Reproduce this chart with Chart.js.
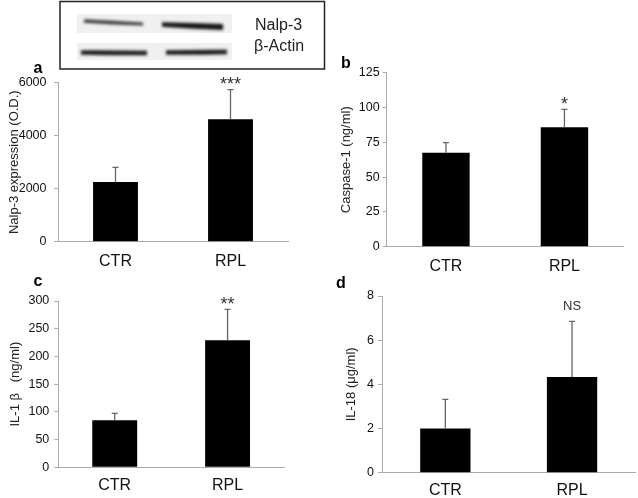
<!DOCTYPE html>
<html><head><meta charset="utf-8">
<script src="https://cdn.jsdelivr.net/npm/chart.js@4"></script>
<style>
body{margin:0;background:#fff;width:638px;height:498px;position:relative;overflow:hidden;font-family:"Liberation Sans",Arial,sans-serif;}
canvas{position:absolute;}
.lbl{position:absolute;font-weight:bold;font-size:16px;line-height:16px;transform:translate(-50%,-50%);color:#000;}
</style></head><body>
<canvas id="blot" width="330" height="72" style="left:0;top:0"></canvas>
<canvas id="ca" width="300" height="215" style="left:0;top:62px"></canvas>
<canvas id="cb" width="318" height="225" style="left:320px;top:50px"></canvas>
<canvas id="cc" width="300" height="223" style="left:0;top:275px"></canvas>
<canvas id="cd" width="318" height="223" style="left:320px;top:275px"></canvas>
<div class="lbl" style="left:38px;top:68px">a</div>
<div class="lbl" style="left:346px;top:63px">b</div>
<div class="lbl" style="left:38px;top:281px">c</div>
<div class="lbl" style="left:341px;top:283px">d</div>
<script>
const categories = ['CTR', 'RPL'];
const nalp3Values = [2250, 4620];
const nalp3Errors = [556, 1116];
const nalp3Sig = ['', '***'];
const caspaseValues = [67.5, 85.8];
const caspaseErrors = [7.2, 12.9];
const caspaseSig = ['', '*'];
const il1bValues = [85, 229];
const il1bErrors = [12.4, 56];
const il1bSig = ['', '**'];
const il18Values = [2.0, 4.33];
const il18Errors = [1.32, 2.52];
const il18Sig = ['', 'NS'];
const blotLabels = ['Nalp-3', 'β-Actin'];

const FAM = '"Liberation Sans", Arial, sans-serif';

// Western blot inset (decorative image)
(function(){
  const b = document.getElementById('blot').getContext('2d');
  b.fillStyle = '#fff'; b.fillRect(0,0,330,72);
  b.fillStyle = '#f0f0f0';
  b.fillRect(77,14,155,19);
  b.fillRect(77,43,155,17);
  function band(x1,x2,y1,y2,h1,h2,col){
    b.fillStyle = col;
    b.beginPath();
    b.moveTo(x1, y1-h1/2);
    b.quadraticCurveTo((x1+x2)/2, (y1+y2)/2-(h1+h2)/4-0.5, x2, y2-h2/2);
    b.lineTo(x2, y2+h2/2);
    b.quadraticCurveTo((x1+x2)/2, (y1+y2)/2+(h1+h2)/4+0.5, x1, y1+h1/2);
    b.closePath(); b.fill();
  }
  b.filter = 'blur(1.4px)';
  band(84,143,21,24,3.5,3,'#3a3a3a');
  band(162,223,24.5,27,4.5,6,'#151515');
  band(81,147,52.5,53,4.5,4.5,'#1a1a1a');
  band(166,227,52.5,52,4.5,4.5,'#1a1a1a');
  b.filter = 'none';
  b.strokeStyle = '#222'; b.lineWidth = 1.5;
  b.strokeRect(60,1.5,264.5,67.5);
  b.fillStyle = '#222'; b.font = '16px ' + FAM; b.textBaseline = 'middle'; b.textAlign = 'left';
  b.fillText(blotLabels[0], 255, 26);
  b.fillText(blotLabels[1], 254, 47);
})();

const errPlugin = {
  id: 'errbars',
  afterDatasetsDraw(chart, args, opts){
    const ctx = chart.ctx;
    const meta = chart.getDatasetMeta(0);
    const ys = chart.scales.y;
    const vals = chart.data.datasets[0].data;
    ctx.save();
    meta.data.forEach((bar, i) => {
      const top = ys.getPixelForValue(vals[i] + opts.errors[i]);
      ctx.strokeStyle = '#666'; ctx.lineWidth = 1.3;
      ctx.beginPath();
      ctx.moveTo(bar.x, bar.y); ctx.lineTo(bar.x, top);
      ctx.moveTo(bar.x - 3, top); ctx.lineTo(bar.x + 3, top);
      ctx.stroke();
      const s = opts.labels[i];
      if (s) {
        ctx.textAlign = 'center'; ctx.textBaseline = 'alphabetic';
        if (s === 'NS') {
          ctx.fillStyle = '#333'; ctx.font = '13px ' + FAM;
          ctx.fillText(s, bar.x, top - 16 + 0.36*13);
        } else {
          ctx.fillStyle = '#333'; ctx.font = '18px ' + FAM;
          ctx.fillText(s, bar.x, top - 10 + 0.57*18);
        }
      }
    });
    ctx.restore();
  }
};

function makeChart(id, values, errors, sig, yTitle, yMax, yStep, L){
  return new Chart(document.getElementById(id), {
    type: 'bar',
    data: { labels: categories, datasets: [{ data: values, backgroundColor: '#000', borderWidth: 0, barPercentage: L.bp, categoryPercentage: 1 }] },
    options: {
      responsive: false, animation: false, events: [],
      layout: { padding: { top: L.pt, right: L.pr, left: 0, bottom: 0 } },
      plugins: { legend: { display: false }, tooltip: { enabled: false }, errbars: { errors: errors, labels: sig } },
      scales: {
        x: {
          grid: { display: false, drawTicks: false },
          border: { color: '#aaa', width: 1 },
          ticks: { color: '#111', font: { size: 16, family: FAM }, padding: L.xp },
          afterFit(s){ s.height = L.xh; }
        },
        y: {
          min: 0, max: yMax,
          grid: { drawOnChartArea: false, drawTicks: true, tickLength: 4, color: '#aaa' },
          border: { color: '#aaa', width: 1 },
          ticks: { stepSize: yStep, color: '#111', font: { size: 12.5, family: FAM }, padding: L.yp,
                   callback: (v) => String(v) },
          title: { display: true, text: yTitle, color: '#222', font: { size: 13, family: FAM }, padding: { top: L.tp, bottom: 0 } },
          afterFit(s){ s.width = L.yw; }
        }
      }
    },
    plugins: [errPlugin]
  });
}

makeChart('ca', nalp3Values, nalp3Errors, nalp3Sig, 'Nalp-3 expression (O.D.)', 6000, 2000,
  { bp: 0.39, pt: 20.7, pr: 12, yw: 58, xh: 35.3, xp: 10, yp: 7.5, tp: 6.2 });
makeChart('cb', caspaseValues, caspaseErrors, caspaseSig, 'Caspase-1 (ng/ml)', 125, 25,
  { bp: 0.4, pt: 22.7, pr: 14.3, yw: 66.7, xh: 28.3, xp: 10, yp: 3, tp: 18.9 });
makeChart('cc', il1bValues, il1bErrors, il1bSig, 'IL-1 β   (ng/ml)', 300, 50,
  { bp: 0.398, pt: 26, pr: 16, yw: 58.3, xh: 30.7, xp: 9, yp: 5, tp: 7.2 });
makeChart('cd', il18Values, il18Errors, il18Sig, 'IL-18 (μg/ml)', 8, 2,
  { bp: 0.397, pt: 21, pr: 2.6, yw: 62, xh: 25.3, xp: 8, yp: 4, tp: 23.9 });
</script>
</body></html>
